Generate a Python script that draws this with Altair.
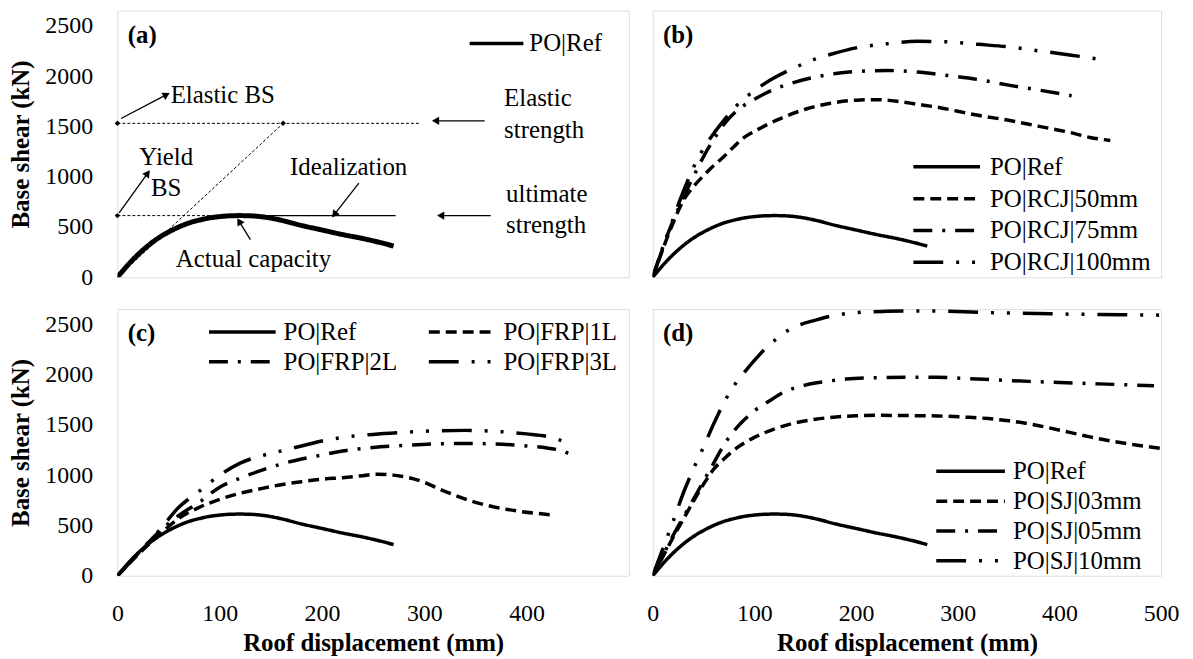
import math
import altair as alt
import pandas as pd

FONT = "Liberation Serif"

# ---------------- data ----------------
REF_MM = [0, 10, 20, 30, 40, 50, 60, 70, 80, 90, 100, 110, 120, 130, 140, 150, 160, 180, 200, 220, 240, 255, 270]
REF_KN = [0, 120, 225, 315, 390, 450, 500, 540, 568, 590, 603, 611, 613, 611, 603, 588, 567, 515, 470, 425, 385, 350, 310]

RCJ50_MM = [0, 10, 20, 30, 40, 50, 60, 70, 80, 90, 100, 125, 150, 175, 200, 220, 240, 260, 280, 300, 320, 350, 380, 410, 430, 450]
RCJ50_KN = [0, 280, 540, 760, 900, 1010, 1110, 1200, 1300, 1390, 1450, 1575, 1670, 1730, 1760, 1765, 1750, 1720, 1690, 1650, 1610, 1560, 1500, 1440, 1390, 1360]

RCJ75_MM = [0, 10, 20, 30, 40, 50, 60, 70, 80, 90, 100, 120, 140, 160, 180, 200, 230, 260, 290, 320, 350, 380, 412]
RCJ75_KN = [0, 300, 560, 790, 1000, 1200, 1370, 1520, 1630, 1710, 1770, 1870, 1940, 1990, 2025, 2045, 2055, 2040, 2005, 1965, 1910, 1860, 1805]

RCJ100_MM = [0, 10, 20, 30, 40, 50, 60, 70, 80, 90, 100, 110, 120, 140, 160, 180, 200, 230, 260, 290, 320, 350, 380, 410, 437]
RCJ100_KN = [0, 290, 580, 850, 1090, 1280, 1430, 1560, 1680, 1775, 1855, 1925, 1985, 2085, 2170, 2230, 2280, 2320, 2345, 2340, 2315, 2290, 2250, 2210, 2170]

FRP1_MM = [0, 20, 40, 60, 80, 100, 120, 140, 160, 180, 200, 220, 240, 255, 270, 285, 300, 315, 330, 350, 370, 390, 410, 425]
FRP1_KN = [0, 210, 400, 570, 680, 760, 820, 865, 905, 935, 960, 975, 995, 1010, 1000, 975, 930, 860, 800, 730, 680, 645, 620, 605]

FRP2_MM = [0, 20, 40, 60, 80, 100, 120, 140, 160, 180, 200, 220, 250, 280, 310, 340, 370, 400, 420, 435, 445]
FRP2_KN = [0, 220, 430, 600, 730, 880, 970, 1045, 1110, 1160, 1200, 1240, 1275, 1295, 1310, 1315, 1310, 1290, 1270, 1240, 1195]

FRP3_MM = [0, 20, 40, 60, 80, 100, 120, 140, 160, 180, 200, 220, 250, 280, 310, 340, 370, 400, 420, 438]
FRP3_KN = [0, 220, 440, 680, 840, 1000, 1120, 1190, 1240, 1290, 1340, 1375, 1405, 1425, 1440, 1445, 1435, 1410, 1385, 1330]

SJ03_MM = [0, 10, 20, 30, 40, 50, 60, 70, 80, 90, 100, 120, 140, 160, 180, 200, 220, 250, 280, 310, 330, 350, 370, 390, 410, 430, 450, 475, 500]
SJ03_KN = [0, 190, 380, 560, 740, 910, 1060, 1160, 1250, 1320, 1375, 1460, 1520, 1555, 1578, 1590, 1595, 1592, 1588, 1575, 1562, 1540, 1510, 1470, 1425, 1380, 1340, 1300, 1265]

SJ05_MM = [0, 10, 20, 30, 40, 50, 60, 70, 80, 90, 100, 115, 130, 150, 170, 190, 220, 250, 280, 310, 340, 370, 400, 430, 460, 493]
SJ05_KN = [0, 200, 400, 580, 760, 940, 1120, 1300, 1440, 1550, 1640, 1740, 1830, 1895, 1930, 1955, 1968, 1973, 1972, 1960, 1945, 1932, 1920, 1910, 1900, 1888]

SJ10_MM = [0, 10, 20, 30, 40, 50, 60, 70, 80, 90, 100, 110, 120, 130, 145, 160, 180, 200, 230, 260, 290, 320, 350, 380, 410, 440, 470, 500]
SJ10_KN = [0, 270, 540, 820, 1060, 1280, 1510, 1720, 1890, 2020, 2140, 2250, 2340, 2420, 2495, 2540, 2590, 2615, 2628, 2632, 2628, 2618, 2612, 2606, 2600, 2596, 2593, 2590]

NAMES_A = ["PO|Ref"]
NAMES_B = ["PO|Ref", "PO|RCJ|50mm", "PO|RCJ|75mm", "PO|RCJ|100mm"]
NAMES_C = ["PO|Ref", "PO|FRP|1L", "PO|FRP|2L", "PO|FRP|3L"]
NAMES_D = ["PO|Ref", "PO|SJ|03mm", "PO|SJ|05mm", "PO|SJ|10mm"]

Y_TICKS = [0, 500, 1000, 1500, 2000, 2500]
X_TICKS_C = [0, 100, 200, 300, 400]
X_TICKS_D = [0, 100, 200, 300, 400, 500]

# annotations of panel (a)
NOTE_L_TEXT = ["Elastic BS", "Elastic", "strength", "ultimate", "strength"]
NOTE_L_MM = [52, 378, 378, 380, 380]
NOTE_L_KN = [1815, 1778, 1462, 826, 524]
NOTE_C_TEXT = ["Yield", "BS", "Idealization", "Actual capacity"]
NOTE_C_MM = [47.7, 47.7, 226, 133]
NOTE_C_KN = [1196, 889, 1100, 178]

DASHED_X1 = [0, 0, 0]
DASHED_Y1 = [1530, 0, 613]
DASHED_X2 = [295, 162, 117]
DASHED_Y2 = [1530, 1530, 613]
SOLID_X1 = [117]
SOLID_Y1 = [613]
SOLID_X2 = [272]
SOLID_Y2 = [613]

ARROW_X1 = [3.5, 1.7, 236, 130, 359, 365]
ARROW_Y1 = [1578, 639, 936, 375, 1555, 613]
ARROW_X2 = [48, 29.6, 212, 119, 311, 316]
ARROW_Y2 = [1815, 1034, 623, 556, 1555, 613]

DOT_MM = [0, 162, 0, 117]
DOT_KN = [1530, 1530, 613, 613]

PANEL_LABELS = ["(a)", "(b)", "(c)", "(d)"]
LABEL_MM = 10
LABEL_KN = 2410

# ---------------- layout / style ----------------
W_L, W_R, H = 514, 511, 268
XMAX, YMAX = 500, 2650
DASHES = [[1, 0], [11, 6], [19, 10, 3, 10], [30, 13, 3, 13, 3, 13]]


def XS():
    return alt.Scale(domain=[0, XMAX], nice=False, zero=True)


def YS():
    return alt.Scale(domain=[0, YMAX], nice=False, zero=True)


def y_axis():
    return alt.Axis(values=Y_TICKS, format="d", title="Base shear (kN)", labelFont=FONT,
                    labelFontSize=24, labelColor="black", titleFont=FONT, titleFontSize=25,
                    titleFontWeight="bold", titleColor="black", ticks=False, domain=False,
                    grid=False, labelPadding=25, titlePadding=11)


def x_axis(vals):
    return alt.Axis(values=vals, format="d", title="Roof displacement (mm)", labelFont=FONT,
                    labelFontSize=24, labelColor="black", titleFont=FONT, titleFontSize=25,
                    titleFontWeight="bold", titleColor="black", ticks=False, domain=False,
                    grid=False, labelPadding=26, titlePadding=5, labelFlush=False,
                    labelOverlap=False)


def legend(lx, ly, sym_len, columns=1, row_pad=6, col_pad=29, offset=6):
    return alt.Legend(title=None, orient="none", legendX=lx, legendY=ly, symbolType="stroke",
                      symbolSize=sym_len ** 2, symbolStrokeWidth=3.5, symbolStrokeColor="black",
                      labelFont=FONT, labelFontSize=25, labelColor="black", labelOffset=offset,
                      rowPadding=row_pad, columnPadding=col_pad, columns=columns,
                      direction="horizontal" if columns > 1 else "vertical", clipHeight=26,
                      padding=0, labelLimit=400)


def curves(names, xs, ys, leg, stroke_w, xax, yax):
    rows = []
    for n, xv, yv in zip(names, xs, ys):
        rows += [{"series": n, "mm": a, "kN": b} for a, b in zip(xv, yv)]
    df = pd.DataFrame(rows)
    return alt.Chart(df).mark_line(color="black", strokeWidth=stroke_w, interpolate="monotone",
                                   clip=True).encode(
        x=alt.X("mm:Q", scale=XS(), axis=xax),
        y=alt.Y("kN:Q", scale=YS(), axis=yax),
        strokeDash=alt.StrokeDash("series:N",
                                  scale=alt.Scale(domain=names, range=DASHES[:len(names)]),
                                  legend=leg),
    )


def panel_label(text):
    df = pd.DataFrame({"t": [text], "mm": [LABEL_MM], "kN": [LABEL_KN]})
    return alt.Chart(df).mark_text(font=FONT, fontSize=25, fontWeight="bold", align="left",
                                   baseline="middle", color="black").encode(
        x=alt.X("mm:Q"), y=alt.Y("kN:Q"), text="t:N")


# ---------- panel (a) ----------
pxmm = W_L / XMAX
pxkn = H / YMAX

a_lines = curves(NAMES_A, [REF_MM], [REF_KN], legend(352, 20, 54, offset=4), 5, None, y_axis())

dashed_df = pd.DataFrame({"x1": DASHED_X1, "y1": DASHED_Y1, "x2": DASHED_X2, "y2": DASHED_Y2})
dashed = alt.Chart(dashed_df).mark_rule(color="black", strokeWidth=1, strokeDash=[3, 2]).encode(
    x=alt.X("x1:Q"), y=alt.Y("y1:Q"), x2="x2:Q", y2="y2:Q")

solid_df = pd.DataFrame({"x1": SOLID_X1, "y1": SOLID_Y1, "x2": SOLID_X2, "y2": SOLID_Y2})
solid = alt.Chart(solid_df).mark_rule(color="black", strokeWidth=1.2).encode(
    x=alt.X("x1:Q"), y=alt.Y("y1:Q"), x2="x2:Q", y2="y2:Q")

arrow_df = pd.DataFrame({"x1": ARROW_X1, "y1": ARROW_Y1, "x2": ARROW_X2, "y2": ARROW_Y2})
arrow_df["ang"] = [
    math.degrees(math.atan2(-(b2 - b1) * pxkn, (a2 - a1) * pxmm)) % 360
    for a1, b1, a2, b2 in zip(ARROW_X1, ARROW_Y1, ARROW_X2, ARROW_Y2)
]
arrows = alt.Chart(arrow_df).mark_rule(color="black", strokeWidth=1.3).encode(
    x=alt.X("x1:Q"), y=alt.Y("y1:Q"), x2="x2:Q", y2="y2:Q")
heads = alt.Chart(arrow_df).mark_point(shape="triangle-right", filled=True, color="black",
                                       size=70, opacity=1).encode(
    x=alt.X("x2:Q"), y=alt.Y("y2:Q"), angle=alt.Angle("ang:Q", scale=None))

dots_df = pd.DataFrame({"mm": DOT_MM, "kN": DOT_KN})
dots = alt.Chart(dots_df).mark_point(shape="diamond", filled=True, color="black", size=30,
                                     opacity=1, clip=False).encode(
    x=alt.X("mm:Q"), y=alt.Y("kN:Q"))

noteL = alt.Chart(pd.DataFrame({"t": NOTE_L_TEXT, "mm": NOTE_L_MM, "kN": NOTE_L_KN})).mark_text(
    font=FONT, fontSize=25, align="left", baseline="middle", color="black").encode(
    x=alt.X("mm:Q"), y=alt.Y("kN:Q"), text="t:N")
noteC = alt.Chart(pd.DataFrame({"t": NOTE_C_TEXT, "mm": NOTE_C_MM, "kN": NOTE_C_KN})).mark_text(
    font=FONT, fontSize=25, align="center", baseline="middle", color="black").encode(
    x=alt.X("mm:Q"), y=alt.Y("kN:Q"), text="t:N")

panel_a = alt.layer(a_lines, dashed, solid, arrows, heads, dots, noteL, noteC,
                    panel_label(PANEL_LABELS[0])).properties(width=W_L, height=H)

# ---------- panel (b) ----------
panel_b = alt.layer(
    curves(NAMES_B, [REF_MM, RCJ50_MM, RCJ75_MM, RCJ100_MM], [REF_KN, RCJ50_KN, RCJ75_KN, RCJ100_KN],
           legend(260, 144, 67, row_pad=6, offset=8), 3.5, None, None),
    panel_label(PANEL_LABELS[1])).properties(width=W_R, height=H)

# ---------- panel (c) ----------
panel_c = alt.layer(
    curves(NAMES_C, [REF_MM, FRP1_MM, FRP2_MM, FRP3_MM], [REF_KN, FRP1_KN, FRP2_KN, FRP3_KN],
           legend(90, 10, 67, columns=2, row_pad=4, col_pad=29, offset=6), 3.5,
           x_axis(X_TICKS_C), y_axis()),
    panel_label(PANEL_LABELS[2])).properties(width=W_L, height=H)

# ---------- panel (d) ----------
panel_d = alt.layer(
    curves(NAMES_D, [REF_MM, SJ03_MM, SJ05_MM, SJ10_MM], [REF_KN, SJ03_KN, SJ05_KN, SJ10_KN],
           legend(283, 150, 69, row_pad=4, offset=6), 3.5, x_axis(X_TICKS_D), None),
    panel_label(PANEL_LABELS[3])).properties(width=W_R, height=H)

chart = alt.concat(panel_a, panel_b, panel_c, panel_d, columns=2, bounds="flush",
                   spacing=alt.RowColnumber(row=32, column=24)).resolve_scale(
    strokeDash="independent").resolve_legend(strokeDash="independent").properties(
    padding={"left": 0, "top": 0, "right": 5, "bottom": 0}, background="white"
).configure_view(stroke="black", strokeWidth=1.5).configure_axis(
    labelFont=FONT, titleFont=FONT).configure_legend(labelFont=FONT).configure_text(
    font=FONT).configure(font=FONT)

chart.save("out.html", embed_options={"renderer": "svg", "actions": False})
